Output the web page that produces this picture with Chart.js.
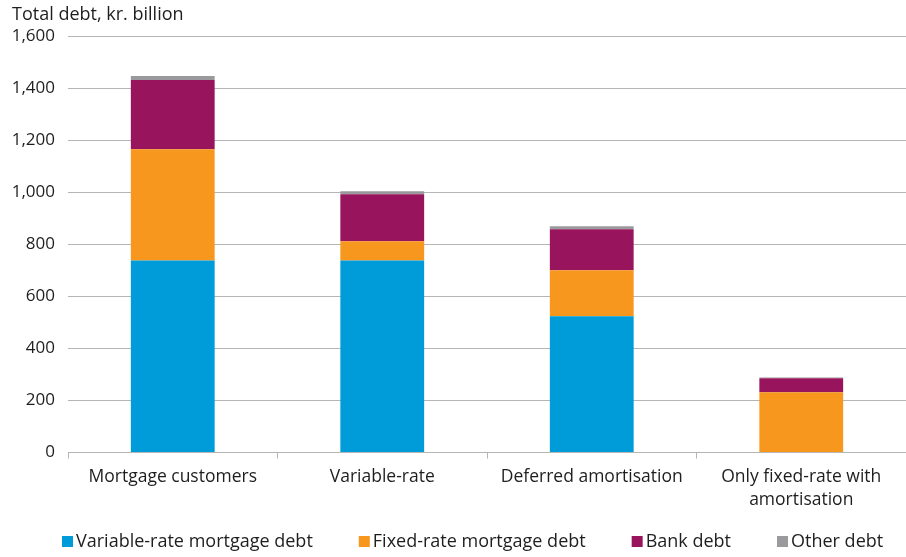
<!DOCTYPE html>
<html>
<head>
<meta charset="utf-8">
<script src="https://cdn.jsdelivr.net/npm/chart.js@4"></script>
<style>
  html, body { margin: 0; padding: 0; background: #fff; }
  #wrap { width: 906px; height: 557px; }
</style>
</head>
<body>
<div id="wrap"><canvas id="debtChart"></canvas></div>
<script>
const categories = ['Mortgage customers', 'Variable-rate', 'Deferred amortisation', ['Only fixed-rate with', 'amortisation']];
const variableRate = [738, 738, 523, 0];
const fixedRate = [427, 74, 177, 231];
const bankDebt = [266, 180, 158, 54];
const otherDebt = [15, 12, 11, 3];
const yTicks = [0, 200, 400, 600, 800, 1000, 1200, 1400, 1600];

const fontFamily = '"Open Sans", "Noto Sans", sans-serif';
const fontSize = 17;
const textColor = '#1e1e1e';
const gridColor = '#b5b5b5';

// axis title in the top-left corner
const cornerTitle = {
  id: 'cornerTitle',
  afterDraw(chart) {
    const ctx = chart.ctx;
    ctx.save();
    ctx.font = '18px ' + fontFamily;
    ctx.fillStyle = textColor;
    ctx.textBaseline = 'alphabetic';
    ctx.textAlign = 'left';
    ctx.fillText('Total debt, kr. billion', 12, 20);
    ctx.restore();
  }
};

// one-row legend along the bottom edge, square swatches hugging the text
const bottomLegend = {
  id: 'bottomLegend',
  afterDraw(chart) {
    const ctx = chart.ctx;
    ctx.save();
    ctx.font = '18px ' + fontFamily;
    ctx.textBaseline = 'middle';
    ctx.textAlign = 'left';
    let x = 62;
    const y = 542;
    chart.data.datasets.forEach(ds => {
      ctx.fillStyle = ds.backgroundColor;
      ctx.fillRect(x, y - 6, 11, 11);
      x += 14;
      ctx.fillStyle = textColor;
      ctx.fillText(ds.label, x, y);
      x += ctx.measureText(ds.label).width + 46;
    });
    ctx.restore();
  }
};

function series(label, data, color) {
  return {
    label: label,
    data: data,
    backgroundColor: color,
    stack: 'debt',
    barPercentage: 0.4,
    categoryPercentage: 1.0
  };
}

new Chart(document.getElementById('debtChart'), {
  type: 'bar',
  data: {
    labels: categories,
    datasets: [
      series('Variable-rate mortgage debt', variableRate, '#009bd9'),
      series('Fixed-rate mortgage debt', fixedRate, '#f7971e'),
      series('Bank debt', bankDebt, '#98155d'),
      series('Other debt', otherDebt, '#9a9a9c')
    ]
  },
  options: {
    responsive: true,
    maintainAspectRatio: false,
    animation: false,
    layout: { padding: { top: 36, right: 0, left: 0, bottom: 39 } },
    plugins: {
      tooltip: { enabled: false },
      legend: { display: false }
    },
    scales: {
      x: {
        stacked: true,
        grid: {
          display: true,
          drawOnChartArea: false,
          drawTicks: true,
          tickLength: 6,
          color: gridColor
        },
        border: { display: true, color: gridColor },
        ticks: {
          color: textColor,
          padding: 7,
          maxRotation: 0,
          font: { family: fontFamily, size: 17.5, lineHeight: 1.3 }
        }
      },
      y: {
        stacked: true,
        min: 0,
        max: 1600,
        afterFit(scale) { scale.width = 68; },
        afterBuildTicks(scale) { scale.ticks = yTicks.map(v => ({ value: v })); },
        grid: { color: gridColor, drawTicks: false },
        border: { display: false },
        ticks: {
          color: textColor,
          padding: 13,
          font: { family: fontFamily, size: fontSize },
          callback: v => v.toLocaleString('en-US')
        }
      }
    }
  },
  plugins: [cornerTitle, bottomLegend]
});
</script>
</body>
</html>
